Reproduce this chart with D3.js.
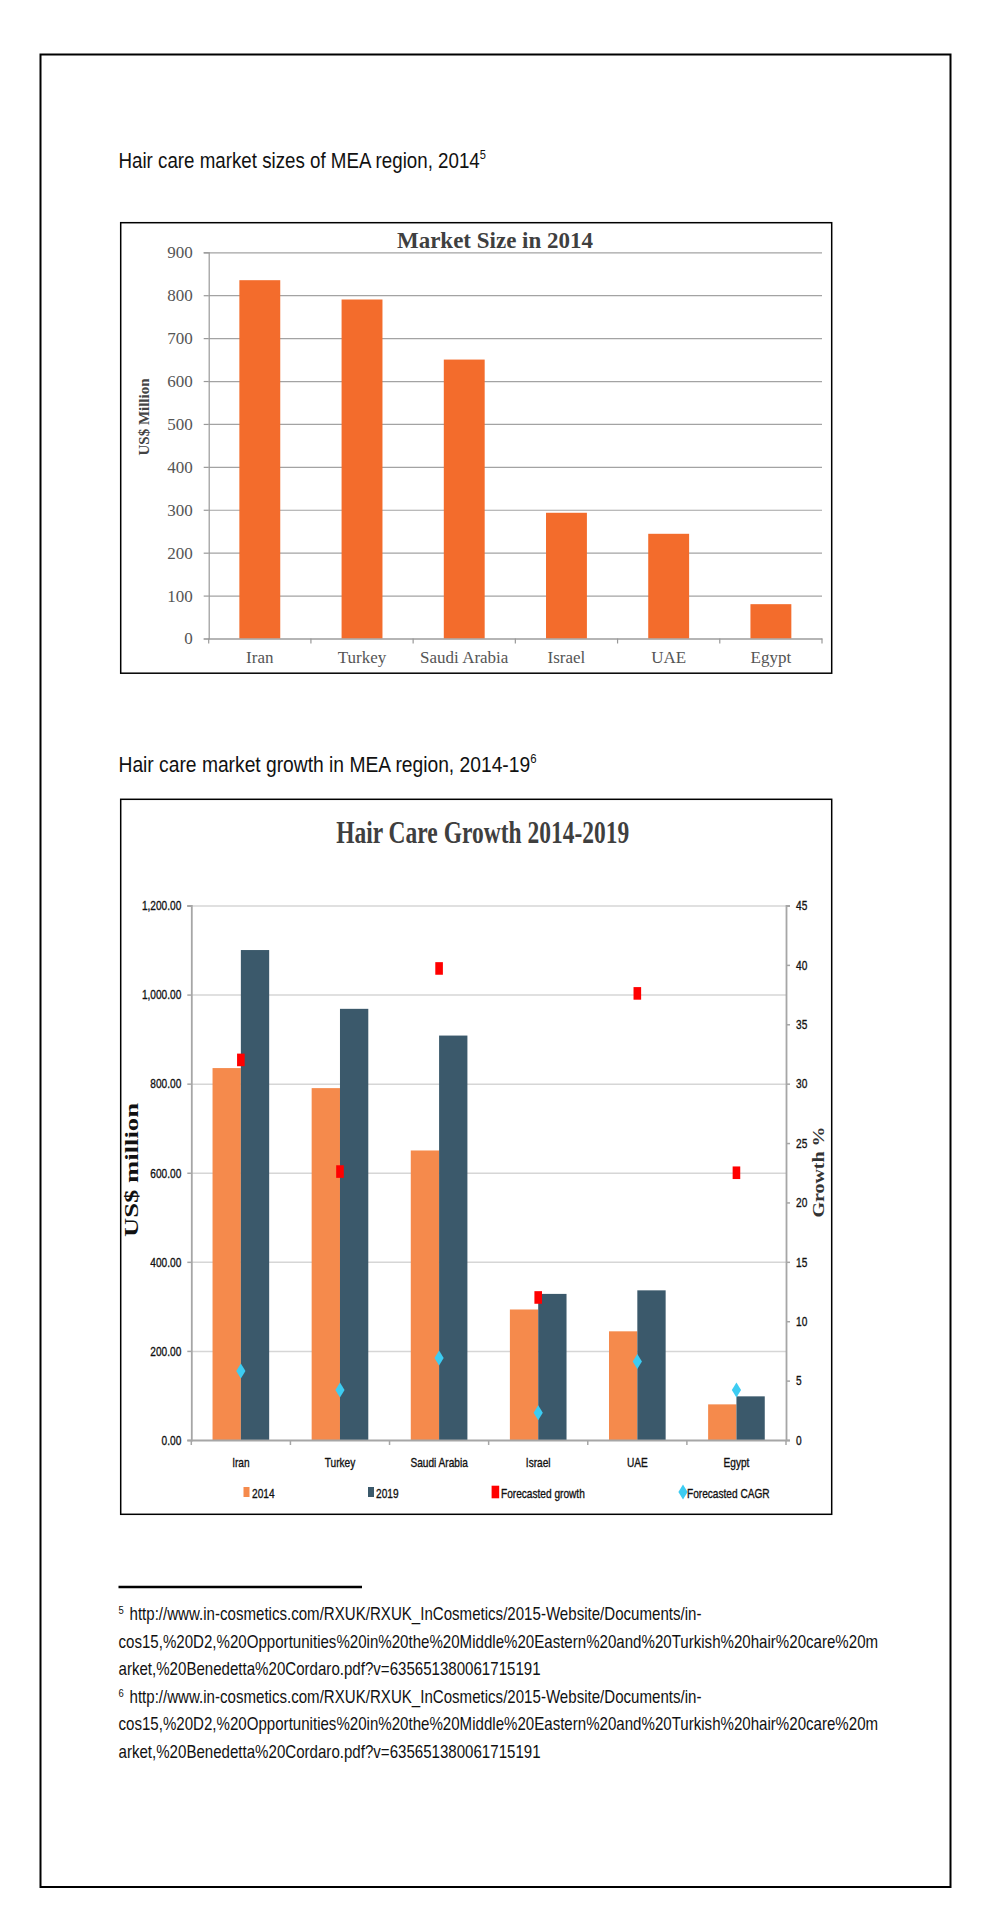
<!DOCTYPE html>
<html>
<head>
<meta charset="utf-8">
<script src="https://cdn.jsdelivr.net/npm/d3@7"></script>
<style>
  html, body { margin: 0; padding: 0; background: #fff; }
  svg { display: block; }
</style>
</head>
<body>
<script>
// ---------------- DATA ----------------
const categories = ["Iran", "Turkey", "Saudi Arabia", "Israel", "UAE", "Egypt"];
const marketSize2014 = [835, 790, 650, 293, 244, 80];          // chart 1, US$ million
const growth2014 = [835, 790, 650, 293, 244, 80];              // chart 2, series "2014"
const growth2019 = [1100, 968, 908, 328, 336, 98];             // chart 2, series "2019"
const forecastedGrowth = [32.0, 22.6, 39.7, 12.0, 37.6, 22.5]; // % (right axis)
const forecastedCAGR = [5.8, 4.2, 6.9, 2.3, 6.6, 4.2];         // % (right axis)
const yTicks1 = [0, 100, 200, 300, 400, 500, 600, 700, 800, 900];
const yTicksLeft2 = [0, 200, 400, 600, 800, 1000, 1200];
const yTicksRight2 = [0, 5, 10, 15, 20, 25, 30, 35, 40, 45];
const seriesNames = ["2014", "2019"];
const legendLabels = ["2014", "2019", "Forecasted growth", "Forecasted CAGR"];

const heading1 = "Hair care market sizes of MEA region, 2014";
const heading2 = "Hair care market growth in MEA region, 2014-19";
const footnotes = [
  { mark: "5", lines: [
    "http://www.in-cosmetics.com/RXUK/RXUK_InCosmetics/2015-Website/Documents/in-",
    "cos15,%20D2,%20Opportunities%20in%20the%20Middle%20Eastern%20and%20Turkish%20hair%20care%20m",
    "arket,%20Benedetta%20Cordaro.pdf?v=635651380061715191"] },
  { mark: "6", lines: [
    "http://www.in-cosmetics.com/RXUK/RXUK_InCosmetics/2015-Website/Documents/in-",
    "cos15,%20D2,%20Opportunities%20in%20the%20Middle%20Eastern%20and%20Turkish%20hair%20care%20m",
    "arket,%20Benedetta%20Cordaro.pdf?v=635651380061715191"] }
];

// ---------------- STYLE ----------------
const SANS = "'Liberation Sans', Arial, sans-serif";
const SERIF = "'Liberation Serif', 'DejaVu Serif', serif";
const K2 = 0.75; // horizontal condensing for chart 2 texts

const svg = d3.select("body").append("svg")
  .attr("width", 993).attr("height", 1907);

svg.append("rect").attr("width", 993).attr("height", 1907).attr("fill", "#fff");

// page border
svg.append("rect")
  .attr("x", 40.5).attr("y", 54.5).attr("width", 910).attr("height", 1832.5)
  .attr("fill", "none").attr("stroke", "#000").attr("stroke-width", 2);

// condensed helper: text drawn at (x,y), scaled horizontally by k
function narrow(parent, x, y, str, size, k, anchor, fill) {
  return parent.append("text")
    .attr("transform", `translate(${x},${y}) scale(${k},1)`)
    .attr("text-anchor", anchor || "start")
    .attr("font-family", SANS).attr("font-size", size).attr("fill", fill || "#111")
    .text(str);
}

function heading(text, sup, y, k) {
  const t = svg.append("text")
    .attr("font-family", SANS).attr("font-size", 22).attr("fill", "#111");
  t.append("tspan").text(text);
  t.append("tspan").attr("font-size", 13).attr("dy", -9).text(sup);
  t.attr("transform", `translate(118.5,${y}) scale(${k},1)`);
}
heading(heading1, "5", 168, 0.852);
heading(heading2, "6", 772, 0.875);

// ================= CHART 1 =================
{
  const box = { x: 120.7, y: 222.7, w: 711, h: 450.5 };
  svg.append("rect").attr("x", box.x).attr("y", box.y).attr("width", box.w).attr("height", box.h)
    .attr("fill", "#fff").attr("stroke", "#000").attr("stroke-width", 1.5);

  const x = d3.scaleBand().domain(categories).range([208.7, 822]).paddingInner(0.6).paddingOuter(0.3);
  const y = d3.scaleLinear().domain([0, 900]).range([638.5, 252.3]);
  const g = svg.append("g");

  const grid = g.append("g").attr("transform", "translate(208.7,0)")
    .call(d3.axisLeft(y).tickValues(yTicks1).tickSize(-(822 - 208.7)).tickFormat(""));
  grid.select(".domain").remove();
  grid.selectAll("line").attr("stroke", "#a3a3a3").attr("stroke-width", 1.2);

  const ya = g.append("g").attr("transform", "translate(208.7,0)")
    .call(d3.axisLeft(y).tickValues(yTicks1).tickSize(5).tickPadding(11).tickFormat(d3.format("d")));
  ya.select(".domain").attr("stroke", "#999").attr("stroke-width", 1.2);
  ya.selectAll("line").attr("stroke", "#999").attr("stroke-width", 1.2);
  ya.selectAll("text").attr("font-family", SERIF).attr("font-size", 17).attr("fill", "#555");

  g.selectAll("rect.bar").data(categories).join("rect").attr("class", "bar")
    .attr("x", d => x(d)).attr("width", x.bandwidth())
    .attr("y", (d, i) => y(marketSize2014[i]))
    .attr("height", (d, i) => y(0) - y(marketSize2014[i]))
    .attr("fill", "#F36C2C");

  const xa = g.append("g").attr("transform", `translate(0,${y(0)})`)
    .call(d3.axisBottom(x).tickSize(0).tickPadding(0).tickSizeOuter(0));
  xa.select(".domain").attr("stroke", "#999").attr("stroke-width", 1.2);
  xa.selectAll("text").attr("dy", 0).attr("y", 24.5)
    .attr("font-family", SERIF).attr("font-size", 17).attr("fill", "#555");
  const bounds = d3.range(categories.length + 1).map(i => x.range()[0] + i * x.step());
  g.selectAll("line.xt").data(bounds).join("line").attr("class", "xt")
    .attr("x1", d => d).attr("x2", d => d).attr("y1", y(0)).attr("y2", y(0) + 5)
    .attr("stroke", "#999").attr("stroke-width", 1.2);

  g.append("text").attr("x", 495).attr("y", 248).attr("text-anchor", "middle")
    .attr("font-family", SERIF).attr("font-weight", "bold").attr("font-size", 23)
    .attr("fill", "#3f3f3f").text("Market Size in 2014");

  g.append("text").attr("transform", "translate(149,417) rotate(-90)")
    .attr("text-anchor", "middle").attr("font-family", SERIF).attr("font-weight", "bold")
    .attr("font-size", 15).attr("fill", "#444").text("US$ Million");
}

// ================= CHART 2 =================
{
  const box = { x: 120.7, y: 799.3, w: 711, h: 715 };
  svg.append("rect").attr("x", box.x).attr("y", box.y).attr("width", box.w).attr("height", box.h)
    .attr("fill", "#fff").attr("stroke", "#000").attr("stroke-width", 1.5);

  const left = 191.3, right = 786;
  const x = d3.scaleBand().domain(categories).range([left, right]).paddingInner(0.4286).paddingOuter(0.2143);
  const xs = d3.scaleBand().domain(seriesNames).range([0, x.bandwidth()]);
  const yL = d3.scaleLinear().domain([0, 1200]).range([1440, 905.5]);
  const yR = d3.scaleLinear().domain([0, 45]).range([1440, 905.5]);
  const colors = { "2014": "#F58A4C", "2019": "#3B596B" };
  const g = svg.append("g");
  const thicken = sel => sel.attr("stroke", "#111").attr("stroke-width", 0.35);

  const grid = g.append("g").attr("transform", `translate(${left},0)`)
    .call(d3.axisLeft(yL).tickValues(yTicksLeft2.slice(1)).tickSize(-(right - left)).tickFormat(""));
  grid.select(".domain").remove();
  grid.selectAll("line").attr("stroke", "#d6d6d6").attr("stroke-width", 1.5);

  // left axis
  const ya = g.append("g").attr("transform", `translate(${left},0)`)
    .call(d3.axisLeft(yL).tickValues(yTicksLeft2).tickSize(4).tickPadding(6)
      .tickFormat(d3.format(",.2f")));
  ya.select(".domain").attr("stroke", "#a6a6a6").attr("stroke-width", 1.8);
  ya.selectAll("line").attr("stroke", "#a6a6a6").attr("stroke-width", 1.5);
  ya.selectAll("text").attr("x", 0).attr("transform", `translate(-10,0) scale(${K2},1)`)
    .attr("font-family", SANS).attr("font-size", 13.5).attr("fill", "#111").call(thicken);

  // right axis
  const yr = g.append("g").attr("transform", `translate(${right},0)`)
    .call(d3.axisRight(yR).tickValues(yTicksRight2).tickSize(4).tickPadding(6).tickFormat(d3.format("d")));
  yr.select(".domain").attr("stroke", "#a6a6a6").attr("stroke-width", 1.8);
  yr.selectAll("line").attr("stroke", "#a6a6a6").attr("stroke-width", 1.5);
  yr.selectAll("text").attr("x", 0).attr("transform", `translate(10,0) scale(${K2},1)`)
    .attr("font-family", SANS).attr("font-size", 13.5).attr("fill", "#111").call(thicken);

  // bars
  const series = [growth2014, growth2019];
  seriesNames.forEach((s, si) => {
    g.selectAll(`rect.b${s}`).data(categories).join("rect").attr("class", `b${s}`)
      .attr("x", d => x(d) + xs(s)).attr("width", xs.bandwidth())
      .attr("y", (d, i) => yL(series[si][i]))
      .attr("height", (d, i) => yL(0) - yL(series[si][i]))
      .attr("fill", colors[s]);
  });

  // x axis
  const xa = g.append("g").attr("transform", `translate(0,${yL(0)})`)
    .call(d3.axisBottom(x).tickSize(0).tickSizeOuter(0));
  xa.select(".domain").attr("stroke", "#a6a6a6").attr("stroke-width", 1.8);
  xa.selectAll("text").attr("dy", 0).attr("y", 0).attr("transform", `translate(0,27) scale(${K2},1)`)
    .attr("font-family", SANS).attr("font-size", 13.5).attr("fill", "#111").call(thicken);
  const bounds = d3.range(categories.length + 1).map(i => left + i * x.step());
  g.selectAll("line.xt").data(bounds).join("line").attr("class", "xt")
    .attr("x1", d => d).attr("x2", d => d).attr("y1", yL(0)).attr("y2", yL(0) + 5)
    .attr("stroke", "#a6a6a6").attr("stroke-width", 1.5);

  // markers
  const cx = d => x(d) + x.bandwidth() / 2;
  g.selectAll("rect.fg").data(categories).join("rect").attr("class", "fg")
    .attr("x", d => cx(d) - 3.8).attr("y", (d, i) => yR(forecastedGrowth[i]) - 6.3)
    .attr("width", 7.6).attr("height", 12.6).attr("fill", "#FF0000");
  const diamond = (px, py) => `M${px},${py - 7.5}L${px + 4.6},${py}L${px},${py + 7.5}L${px - 4.6},${py}Z`;
  g.selectAll("path.cagr").data(categories).join("path").attr("class", "cagr")
    .attr("d", (d, i) => diamond(cx(d), yR(forecastedCAGR[i])))
    .attr("fill", "#3DCCF2");

  // legend
  const lx = [243.5, 368, 491.6, 680];
  const ly = 1492;
  const lg = g.append("g");
  lg.append("rect").attr("x", lx[0]).attr("y", ly - 5).attr("width", 6).attr("height", 10).attr("fill", colors["2014"]);
  lg.append("rect").attr("x", lx[1]).attr("y", ly - 5).attr("width", 6).attr("height", 10).attr("fill", colors["2019"]);
  lg.append("rect").attr("x", lx[2]).attr("y", ly - 6.3).attr("width", 7.6).attr("height", 12.6).attr("fill", "#FF0000");
  lg.append("path").attr("d", diamond(lx[3] + 3, ly)).attr("fill", "#3DCCF2");
  const ltx = [252, 376, 501, 687];
  legendLabels.forEach((d, i) => narrow(lg, ltx[i], 1498, d, 13.5, K2, "start", "#111").call(thicken));

  // titles
  g.append("text").attr("x", 482.7).attr("y", 842.7).attr("text-anchor", "middle")
    .attr("font-family", SERIF).attr("font-weight", "bold").attr("font-size", 31)
    .attr("textLength", 293).attr("lengthAdjust", "spacingAndGlyphs")
    .attr("fill", "#3f3f3f").text("Hair Care Growth 2014-2019");
  g.append("text").attr("transform", "translate(138,1170) rotate(-90)")
    .attr("text-anchor", "middle").attr("font-family", SERIF).attr("font-weight", "bold")
    .attr("font-size", 18).attr("textLength", 134).attr("lengthAdjust", "spacingAndGlyphs")
    .attr("fill", "#111").text("US$ million");
  g.append("text").attr("transform", "translate(824,1172) rotate(-90)")
    .attr("text-anchor", "middle").attr("font-family", SERIF).attr("font-weight", "bold")
    .attr("font-size", 17).attr("textLength", 91).attr("lengthAdjust", "spacingAndGlyphs")
    .attr("fill", "#333").text("Growth %");
}

// ================= FOOTNOTES =================
svg.append("line").attr("x1", 118.5).attr("x2", 362).attr("y1", 1587).attr("y2", 1587)
  .attr("stroke", "#000").attr("stroke-width", 2.5);
{
  const probe = svg.append("text").attr("font-family", SANS).attr("font-size", 17.5)
    .text(footnotes[0].lines[1]);
  const kf = 760 / probe.node().getComputedTextLength();
  probe.remove();
  let yy = 1620;
  footnotes.forEach(fn => {
    fn.lines.forEach((ln, i) => {
      if (i === 0) narrow(svg, 118.5, yy - 6, fn.mark, 11, kf, "start", "#111");
      narrow(svg, i === 0 ? 129.5 : 118.5, yy, ln, 17.5, kf, "start", "#111");
      yy += 27.5;
    });
  });
}
</script>
</body>
</html>
